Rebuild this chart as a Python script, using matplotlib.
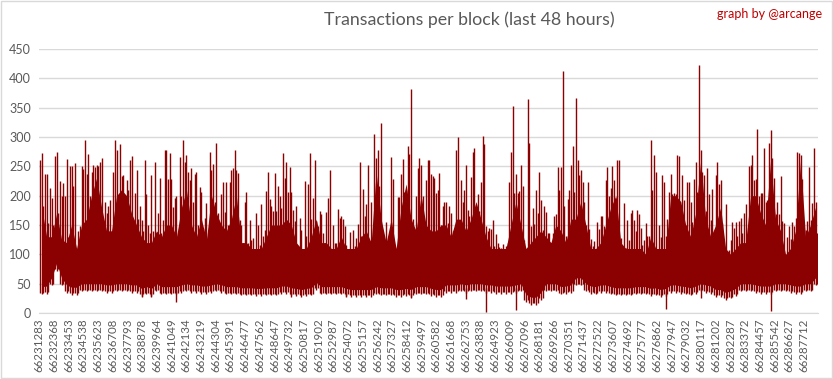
import matplotlib
matplotlib.use('Agg')
import matplotlib.pyplot as plt
import numpy as np

# rows in the sheet (blocks of last 48h) and label every N rows
n_rows = 57460
label_step = 1085
block_labels = ['66231283', '66232368', '66233453', '66234538', '66235623', '66236708',
                '66237793', '66238878', '66239964', '66241049', '66242134', '66243219',
                '66244304', '66245391', '66246477', '66247562', '66248647', '66249732',
                '66250817', '66251902', '66252987', '66254072', '66255157', '66256242',
                '66257327', '66258412', '66259497', '66260582', '66261668', '66262753',
                '66263838', '66264923', '66266009', '66267096', '66268181', '66269266',
                '66270351', '66271437', '66272522', '66273607', '66274692', '66275777',
                '66276862', '66277947', '66279032', '66280117', '66281202', '66282287',
                '66283372', '66284457', '66285542', '66286627', '66287712']

# values read per narrow slice of the chart (156 slices, left to right)
# lo: bottom of the band, hi: top of the dense band
lo = [35, 36, 50, 75, 50, 38, 34, 34, 40, 40, 40, 40, 40, 38, 38, 40, 40, 40, 38, 38,
      32, 35, 32, 40, 35, 35, 35, 35, 38, 40, 38, 38, 36, 36, 38, 40, 38, 35, 35, 35,
      33, 33, 33, 32, 32, 33, 33, 33, 36, 36, 33, 32, 30, 32, 33, 42, 35, 35, 35, 35,
      35, 32, 30, 30, 30, 30, 30, 35, 33, 33, 33, 30, 30, 32, 30, 35, 35, 35, 32, 30,
      30, 38, 38, 38, 40, 38, 40, 40, 40, 38, 38, 36, 36, 36, 36, 38, 40, 22, 17, 17,
      25, 40, 40, 40, 35, 36, 38, 50, 50, 40, 36, 35, 38, 38, 35, 33, 33, 33, 33, 35,
      35, 35, 32, 33, 30, 32, 38, 38, 36, 35, 33, 36, 40, 38, 36, 30, 30, 25, 28, 32,
      40, 40, 40, 38, 36, 36, 36, 40, 40, 40, 38, 36, 36, 40, 40, 50]
hi = [180, 130, 130, 170, 125, 120, 150, 110, 150, 160, 200, 230, 180, 140, 140, 200, 210, 200, 170, 150,
      130, 120, 120, 140, 130, 150, 150, 130, 180, 210, 150, 130, 160, 125, 200, 170, 150, 140, 160, 200,
      120, 120, 110, 110, 110, 130, 150, 150, 150, 160, 150, 120, 110, 110, 130, 160, 120, 120, 110, 110,
      130, 110, 110, 110, 130, 140, 120, 240, 160, 120, 160, 110, 180, 220, 160, 140, 200, 150, 140, 140,
      150, 150, 130, 160, 160, 140, 160, 190, 160, 130, 110, 110, 110, 110, 150, 190, 150, 110, 120, 130,
      140, 130, 120, 150, 140, 120, 160, 160, 190, 150, 110, 110, 120, 150, 180, 200, 120, 110, 110, 110,
      110, 100, 130, 110, 110, 110, 200, 200, 190, 150, 130, 170, 260, 160, 130, 150, 180, 110, 100, 110,
      120, 120, 200, 200, 170, 150, 260, 160, 140, 100, 110, 140, 260, 130, 150, 180]
# three spike tops per slice
peaks = [[261, 273, 182], [237, 237, 153], [213, 196, 150], [267, 274, 170], [225, 200, 221],
         [199, 263, 130], [250, 250, 217], [256, 108, 140], [149, 250, 245], [294, 237, 271],
         [200, 240, 252], [248, 252, 250], [258, 264, 136], [190, 170, 182], [193, 139, 241],
         [295, 277, 200], [288, 233, 236], [200, 227, 210], [261, 267, 150], [204, 243, 160],
         [182, 159, 140], [261, 203, 150], [136, 236, 140], [257, 136, 170], [230, 136, 159],
         [277, 278, 228], [273, 228, 180], [196, 199, 122], [266, 199, 294], [258, 269, 240],
         [227, 247, 189], [237, 241, 150], [214, 207, 145], [162, 187, 130], [274, 244, 254],
         [189, 290, 170], [148, 202, 223], [172, 224, 150], [223, 244, 247], [278, 244, 239],
         [159, 150, 120], [189, 206, 119], [159, 125, 128], [91, 170, 150], [116, 185, 131],
         [142, 208, 241], [194, 183, 173], [239, 174, 216], [199, 179, 273], [230, 258, 207],
         [248, 207, 176], [156, 182, 106], [162, 142, 108], [225, 131, 220], [272, 160, 196],
         [260, 156, 148], [174, 169, 136], [120, 172, 196], [244, 97, 150], [119, 119, 177],
         [162, 166, 161], [149, 116, 85], [138, 91, 142], [115, 128, 152], [257, 131, 212],
         [166, 185, 252], [122, 189, 106], [305, 264, 278], [216, 324, 125], [114, 155, 125],
         [99, 266, 228], [114, 109, 197], [197, 237, 263], [207, 210, 284], [271, 382, 160],
         [143, 199, 247], [264, 253, 199], [153, 227, 260], [261, 237, 234], [230, 204, 210],
         [239, 150, 182], [190, 189, 153], [183, 170, 139], [142, 277, 300], [141, 227, 189],
         [210, 253, 176], [165, 232, 274], [281, 173, 203], [173, 223, 301], [288, 148, 140],
         [145, 143, 159], [114, 135, 119], [112, 111, 118], [91, 115, 119], [223, 275, 353],
         [204, 237, 204], [208, 252, 216], [125, 95, 365], [290, 148, 179], [152, 210, 170],
         [240, 193, 142], [182, 172, 136], [136, 118, 136], [165, 169, 248], [210, 248, 412],
         [183, 131, 194], [210, 253, 284], [207, 366, 261], [236, 243, 224], [190, 150, 223],
         [144, 126, 114], [122, 97, 155], [144, 165, 165], [148, 227, 248], [199, 213, 251],
         [227, 196, 260], [261, 128, 102], [187, 111, 159], [125, 170, 176], [159, 139, 176],
         [168, 145, 116], [125, 153, 131], [131, 294, 210], [270, 241, 97], [150, 129, 236],
         [223, 131, 160], [207, 237, 202], [204, 203, 270], [267, 135, 236], [193, 150, 223],
         [223, 190, 155], [228, 258, 207], [423, 278, 240], [236, 174, 247], [202, 159, 211],
         [133, 236, 257], [220, 226, 153], [85, 185, 105], [108, 125, 155], [145, 155, 131],
         [157, 162, 136], [170, 185, 115], [251, 253, 269], [227, 229, 314], [199, 204, 204],
         [281, 189, 193], [290, 312, 264], [230, 168, 189], [169, 233, 156], [153, 88, 129],
         [148, 126, 155], [148, 162, 274], [273, 270, 228], [142, 142, 156], [249, 159, 187],
         [281, 190, 136]]
# slices with a block that dropped low
dip_slice = [20, 22, 27, 50, 61, 74, 85, 89, 95, 125, 132, 146]
dip_value = [27, 27, 18, 27, 27, 26, 24, 1, 5, 7, 26, 3]

red = '#8B0000'
grey = '#595959'
plt.rcParams['font.family'] = ['Lato', 'DejaVu Sans']

fig = plt.figure(figsize=(8.33, 3.79), dpi=100)
ax = fig.add_axes([0.047, 0.174, 0.935, 0.697])

n = len(lo)
w = n_rows / n
lo_a = np.array(lo)
xc = (np.arange(n) + 0.5) * w - 0.5
# solid core of the band, bottom edge left ragged by the spikes
ax.fill_between(xc, lo_a + 10, hi, color=red, lw=0, zorder=3)

pk = np.array(peaks)
for j in range(3):
    xs = (np.arange(n) + (j + 0.5) / 3) * w - 0.5
    ax.vlines(xs, lo_a - (j % 2) * 3, pk[:, j], color=red, lw=1.0, zorder=3)

xd = (np.array(dip_slice) + 0.5) * w - 0.5
ax.vlines(xd, dip_value, lo_a[dip_slice] + 5, color=red, lw=1.0, zorder=3)

ax.set_xlim(-0.5, n_rows - 0.5)
ax.set_ylim(0, 450)
ax.set_yticks(np.arange(0, 451, 50))
ax.set_xticks(np.arange(len(block_labels)) * label_step)
ax.set_xticklabels(block_labels, rotation=90, fontsize=8.3, color=grey)
ax.tick_params(axis='y', labelsize=9, colors=grey, length=0, pad=6)
ax.tick_params(axis='x', length=0, pad=4)
ax.grid(axis='y', color='#D9D9D9', lw=1, zorder=0)
ax.set_axisbelow(True)
for s in ['top', 'right', 'left']:
    ax.spines[s].set_visible(False)
ax.spines['bottom'].set_color('#D9D9D9')

fig.text(0.563, 0.947, 'Transactions per block (last 48 hours)', ha='center', va='center',
         fontsize=12.8, color=grey)
fig.text(0.987, 0.962, 'graph by @arcange', ha='right', va='center', fontsize=9, color='#C00000')

fig.patches.append(plt.Rectangle((0.001, 0.002), 0.998, 0.996, transform=fig.transFigure,
                                 fill=False, edgecolor='#D9D9D9', lw=1))
fig.savefig('out.png', dpi=100)
